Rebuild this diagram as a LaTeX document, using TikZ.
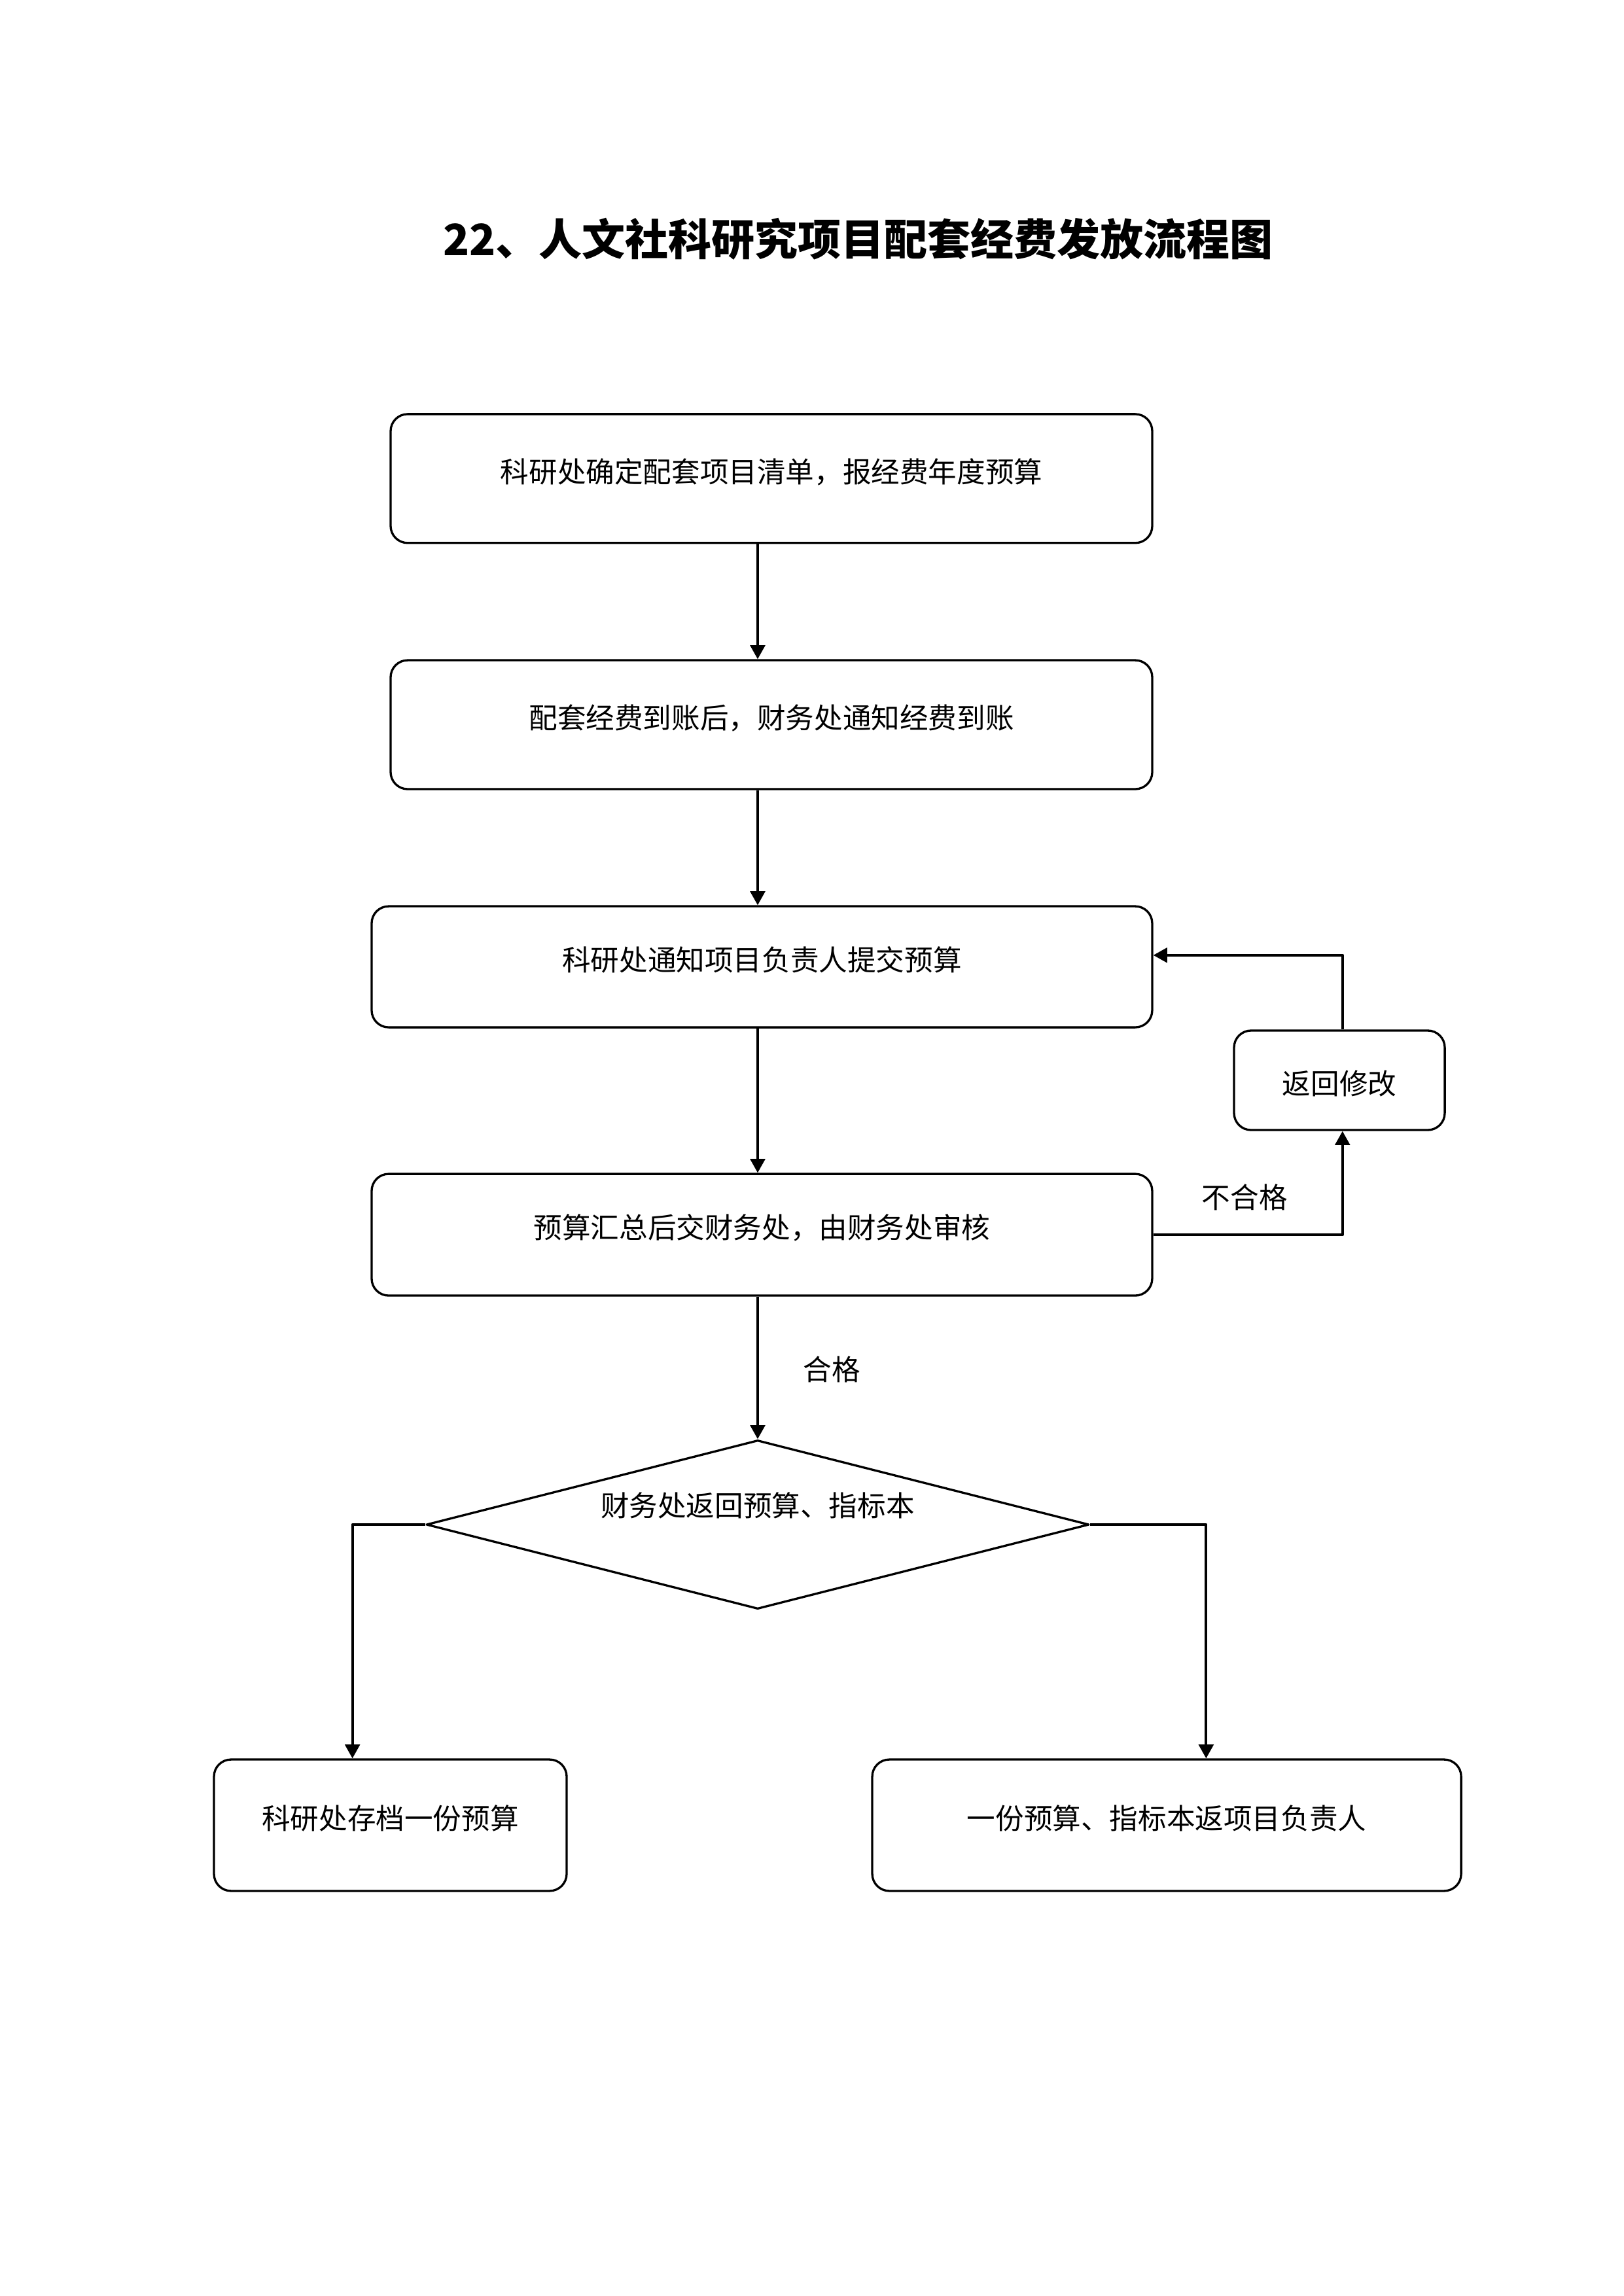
\documentclass[tikz,border=0pt]{standalone}
\usepackage{fontspec}
\newfontfamily\cjk{Noto Sans CJK SC}
\usetikzlibrary{arrows.meta,shapes.geometric}

\begin{document}
\begin{tikzpicture}[>={Triangle[length=1.8mm,width=1.9mm]},line join=round,
  every node/.style={font=\cjk\fontsize{10.5pt}{12pt}\selectfont},
  box/.style={draw,line width=0.8pt,rounded corners=2.2mm,inner sep=0pt,text height=3.2mm,text depth=2.2mm},
  decide/.style={draw,diamond,aspect=3.9,line width=0.8pt,inner sep=0pt,text height=3.2mm,text depth=5.4mm},
  arr/.style={->,line width=1pt}]
  \useasboundingbox (0,0) rectangle (21,-29.7);
  % title
  \node[font=\cjk\bfseries\fontsize{15.9pt}{19pt}\selectfont] (title) at (11.10,-3.09) {22、人文社科研究项目配套经费发放流程图};
  % main column
  \node[box,minimum width=9.852cm,minimum height=1.667cm] (plan) at (9.979,-6.19) {科研处确定配套项目清单，报经费年度预算};
  \node[box,minimum width=9.852cm,minimum height=1.667cm] (fund) at (9.979,-9.374) {配套经费到账后，财务处通知经费到账};
  \node[box,minimum width=10.097cm,minimum height=1.566cm] (notify) at (9.856,-12.506) {科研处通知项目负责人提交预算};
  \node[box,minimum width=10.097cm,minimum height=1.574cm] (audit) at (9.856,-15.972) {预算汇总后交财务处，由财务处审核};
  \node[box,minimum width=2.726cm,minimum height=1.287cm,text height=4.2mm,text depth=0.5mm] (revise) at (17.326,-13.974) {返回修改};
  \node[decide,minimum width=8.574cm,minimum height=2.184cm] (back) at (9.801,-19.721) {财务处返回预算、指标本};
  \node[box,minimum width=4.562cm,minimum height=1.70cm] (keep) at (5.049,-23.61) {科研处存档一份预算};
  \node[box,minimum width=7.618cm,minimum height=1.70cm] (give) at (15.092,-23.61) {一份预算、指标本返项目负责人};
  % labels
  \node (fail) at (16.10,-15.49) {不合格};
  \node (pass) at (10.76,-17.71) {合格};
  % connectors
  \draw[arr] (plan.south -| back.north) -- (fund.north -| back.north);
  \draw[arr] (fund.south -| back.north) -- (notify.north -| back.north);
  \draw[arr] (notify.south -| back.north) -- (audit.north -| back.north);
  \draw[arr] (audit.south -| back.north) -- (back.north);
  \draw[arr] (audit.east) -| ([xshift=0.4mm]revise.south);
  \draw[arr] ([xshift=0.4mm]revise.north) |- ([yshift=1.5mm]notify.east);
  \draw[arr] (back.west) -| ([xshift=-4.9mm]keep.north);
  \draw[arr] (back.east) -| ([xshift=5.1mm]give.north);
\end{tikzpicture}
\end{document}
